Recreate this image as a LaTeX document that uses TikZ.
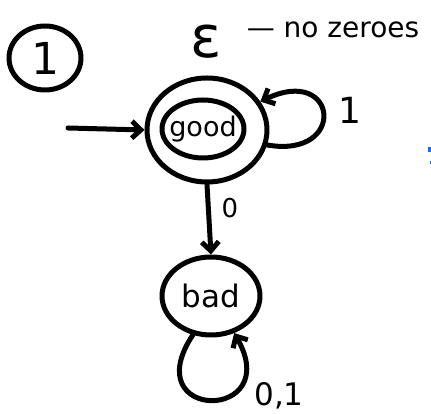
\documentclass[tikz,border=0pt]{standalone}
\usepackage{fontspec}
\setmainfont{DejaVu Sans}
\usetikzlibrary{arrows.meta,shapes.geometric}
\definecolor{penblue}{HTML}{1A6CFF}
\tikzset{
  ink/.style={line width=5pt, line cap=round, line join=round},
  fsmstate/.style={draw, ink, ellipse, inner sep=0pt, align=center},
  trans/.style={ink, -{Straight Barb[length=9pt,width=17pt]}},
  lbl/.style={inner sep=0pt}
}
\begin{document}
\begin{tikzpicture}[x=1pt,y=1pt,font=\fontsize{31}{34}\selectfont]
  \useasboundingbox (0,0) rectangle (431,414);
  \fill[white] (0,0) rectangle (431,414);

  % exercise number and heading
  \node[fsmstate, minimum width=72pt, minimum height=64pt, font=\fontsize{44}{48}\selectfont] (task) at (45,356) {1};
  \node[lbl, font=\fontsize{58}{62}\selectfont] (eps) at (206,372) {ε};
  \node[lbl, font=\fontsize{28}{32}\selectfont] (note) at (333,384) {— no zeroes};

  % states
  \node[fsmstate, minimum width=120pt, minimum height=104pt] (good) at (207,284) {};
  \node[fsmstate, minimum width=82pt, minimum height=58pt] (goodin) at (203,285) {};
  \node[lbl, font=\fontsize{27}{30}\selectfont] (goodtxt) at (goodin) {good};
  \node[fsmstate, minimum width=98pt, minimum height=78pt] (bad) at (211,118) {bad};

  % transitions
  \coordinate (start) at (68,286);
  \draw[trans] (start) -- (good.west);
  \draw[trans] (good.-14) .. controls (348,255) and (338,350) .. (good.28);
  \node[lbl, font=\fontsize{36}{40}\selectfont] (lone) at (350,304) {1};
  \draw[trans] (good.south) -- (bad.north);
  \node[lbl, font=\fontsize{26}{30}\selectfont] (lzero) at (230,206) {0};
  \draw[trans] (bad.-115) .. controls (135,-8) and (285,-8) .. (bad.-58);
  \node[lbl] (lboth) at (279,18) {0,1};

  % stray pen mark
  \fill[penblue] (428,262) rectangle (431,267);
  \fill[penblue] (430,250) rectangle (431,253);
\end{tikzpicture}
\end{document}
